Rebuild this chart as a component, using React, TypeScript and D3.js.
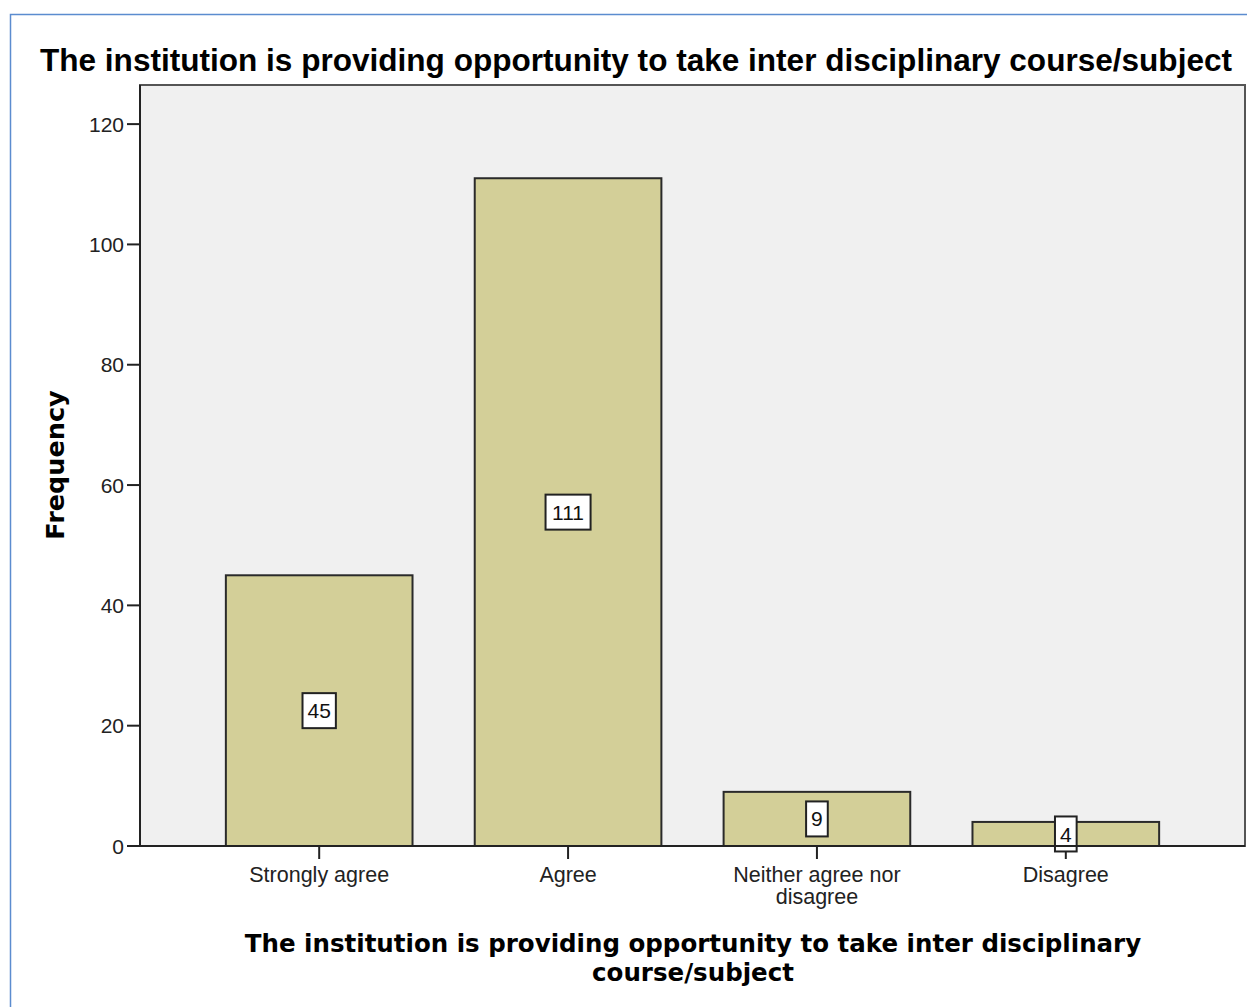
import React from "react";
import * as d3 from "d3";

const categories = ["Strongly agree", "Agree", "Neither agree nor disagree", "Disagree"];
const categoryLines = [["Strongly agree"], ["Agree"], ["Neither agree nor", "disagree"], ["Disagree"]];
const frequencies = [45, 111, 9, 4];
const yTicks = [0, 20, 40, 60, 80, 100, 120];
const chartTitle = "The institution is providing opportunity to take inter disciplinary course/subject";
const xTitleLines = ["The institution is providing opportunity to take inter disciplinary", "course/subject"];
const yTitle = "Frequency";

export default function App() {
  const W = 1247, H = 1007;
  const left = 140, right = 1245, top = 85, bottom = 846;
  const y = d3.scaleLinear().domain([0, 126.5]).range([bottom, top]);
  const x = d3.scaleBand().domain(categories).range([left, right]).paddingInner(0.25).paddingOuter(0.345);
  const sans = "'Liberation Sans', Arial, sans-serif";
  const dv = "'DejaVu Sans', Verdana, sans-serif";
  const labelFont = 21;
  return (
    <svg width={W} height={H} style={{ position: "absolute", left: 0, top: 0, background: "#fff" }}>
      <rect x={10.5} y={14.5} width={W} height={H} fill="#fff" stroke="#5b8ccf" strokeWidth={1.5} />
      <text x={636} y={71} textAnchor="middle" fontFamily={sans} fontWeight="bold" fontSize={31} fill="#000" textLength={1192} lengthAdjust="spacingAndGlyphs">{chartTitle}</text>
      <rect x={left} y={top} width={right - left} height={bottom - top} fill="#f0f0f0" stroke="#555" strokeWidth={2} />
      {categories.map((c, i) => {
        const bx = x(c)!;
        const bw = x.bandwidth();
        const v = frequencies[i];
        const cx = bx + bw / 2;
        const cy = y(v / 2);
        const txt = String(v);
        const tw = txt.length * labelFont * 0.556 + 10;
        const th = 35;
        return (
          <g key={c}>
            <rect x={bx} y={y(v)} width={bw} height={bottom - y(v)} fill="#d3cf98" stroke="#2a2a2a" strokeWidth={2} />
            <line x1={cx} x2={cx} y1={bottom} y2={bottom + 13} stroke="#222" strokeWidth={2} />
            <rect x={cx - tw / 2} y={cy - th / 2} width={tw} height={th} fill="#fff" stroke="#222" strokeWidth={2} />
            <text x={cx} y={cy + labelFont * 0.36} textAnchor="middle" fontFamily={sans} fontSize={labelFont} fill="#111">{txt}</text>
            {categoryLines[i].map((ln, j) => (
              <text key={j} x={cx} y={882 + j * 22} textAnchor="middle" fontFamily={sans} fontSize={21.5} fill="#222">{ln}</text>
            ))}
          </g>
        );
      })}
      <line x1={left} x2={left} y1={top} y2={bottom} stroke="#222" strokeWidth={2} />
      <line x1={left} x2={right} y1={bottom} y2={bottom} stroke="#222" strokeWidth={2} />
      {yTicks.map((t) => (
        <g key={t}>
          <line x1={127} x2={left} y1={y(t)} y2={y(t)} stroke="#222" strokeWidth={2} />
          <text x={124} y={y(t) + 7.5} textAnchor="end" fontFamily={sans} fontSize={21} fill="#222">{t}</text>
        </g>
      ))}
      <text transform={`translate(64,465) rotate(-90)`} textAnchor="middle" fontFamily={dv} fontWeight="bold" fontSize={25.5} fill="#000">{yTitle}</text>
      {xTitleLines.map((ln, j) => (
        <text key={j} x={693} y={952 + j * 29} textAnchor="middle" fontFamily={dv} fontWeight="bold" fontSize={24.5} fill="#000">{ln}</text>
      ))}
    </svg>
  );
}
